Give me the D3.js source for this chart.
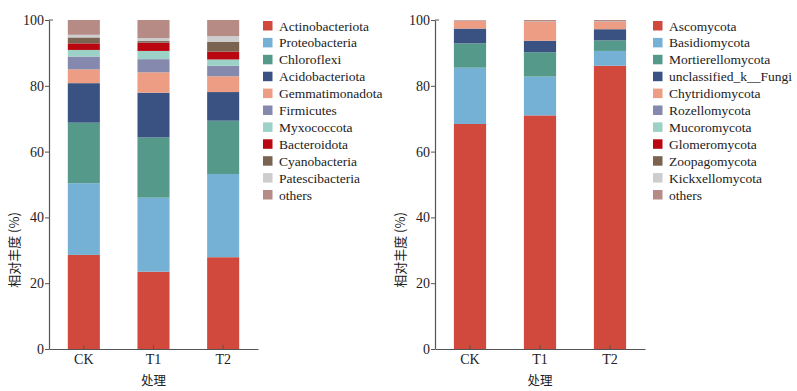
<!DOCTYPE html>
<html><head><meta charset="utf-8">
<script src="https://cdn.jsdelivr.net/npm/d3@7/dist/d3.min.js"></script>
<style>body{margin:0;background:#fff}svg{display:block}</style>
</head><body>
<svg id="c" width="797" height="391"></svg>
<script>
const groups = ["CK","T1","T2"];
const yTicks = [0,20,40,60,80,100];

const bacteriaTaxa = ["Actinobacteriota","Proteobacteria","Chloroflexi","Acidobacteriota","Gemmatimonadota","Firmicutes","Myxococcota","Bacteroidota","Cyanobacteria","Patescibacteria","others"];
const bacteriaCK = [28.6,21.8,18.4,12.0,4.2,3.9,2.0,2.0,1.8,0.8,4.5];
const bacteriaT1 = [23.5,22.5,18.3,13.6,6.2,4.0,2.5,2.5,0.5,0.9,5.5];
const bacteriaT2 = [27.9,25.3,16.2,8.7,4.8,3.2,1.9,2.4,3.0,1.7,4.9];

const fungiTaxa = ["Ascomycota","Basidiomycota","Mortierellomycota","unclassified_k__Fungi","Chytridiomycota","Rozellomycota","Mucoromycota","Glomeromycota","Zoopagomycota","Kickxellomycota","others"];
const fungiCK = [68.4,17.1,7.4,4.5,2.3,0.05,0.05,0.02,0.02,0.02,0.14];
const fungiT1 = [71.0,11.8,7.4,3.5,5.8,0.05,0.05,0.02,0.02,0.02,0.34];
const fungiT2 = [86.1,4.5,3.2,3.4,2.3,0.05,0.05,0.02,0.02,0.02,0.34];

const palette = ["#d0493c","#75b0d5","#55998a","#3a5281","#ec9d84","#8689ae","#9bd1c6","#b90610","#7b6352","#cdcdcd","#b68b85"];

const svg = d3.select("#c");
const serif = "'Liberation Serif','Times New Roman',serif";
const cjk = "'Noto Sans CJK SC',sans-serif";

function panel(opt){
  const {taxa, vals, x0, x1, legX, titleX} = opt;
  const y = d3.scaleLinear().domain([0,100]).range([349,20]);
  const x = d3.scaleBand().domain(groups).range([x0,x1]).paddingInner(0.54).paddingOuter(0.27);
  const color = d3.scaleOrdinal().domain(taxa).range(palette);
  const rows = groups.map((g,gi)=>{const o={group:g}; taxa.forEach((t,i)=>o[t]=vals[gi][i]); return o;});
  const stack = d3.stack().keys(taxa)(rows);
  const g = svg.append("g");
  g.selectAll("g.s").data(stack).join("g").attr("fill",d=>color(d.key))
    .selectAll("rect").data(d=>d).join("rect")
    .attr("x",d=>x(d.data.group)).attr("width",x.bandwidth())
    .attr("y",d=>y(d[1])).attr("height",d=>Math.max(0,y(d[0])-y(d[1])));
  // y axis
  const ya = g.append("g").attr("transform",`translate(${x0},0)`)
    .call(d3.axisLeft(y).tickValues(yTicks).tickSize(4).tickSizeOuter(0));
  ya.select(".domain").attr("stroke","#555").attr("stroke-width",1.2);
  ya.selectAll(".tick line").attr("stroke","#555");
  ya.selectAll(".tick text").attr("font-family",serif).attr("font-size",14).attr("fill","#222").attr("x",-5);
  g.append("line").attr("x1",x0).attr("x2",x0+4).attr("y1",y(100)).attr("y2",y(100)).attr("stroke","#555");
  // x axis
  const xa = g.append("g").attr("transform","translate(0,349)")
    .call(d3.axisBottom(x).tickSize(-4).tickSizeOuter(0));
  xa.select(".domain").attr("stroke","#555").attr("stroke-width",1.2);
  xa.selectAll(".tick line").attr("stroke","#555");
  xa.selectAll(".tick text").attr("font-family",serif).attr("font-size",14).attr("fill","#222").attr("y",5);
  g.append("text").attr("x",x("T1")+x.bandwidth()/2).attr("y",385).attr("text-anchor","middle")
    .attr("font-family",cjk).attr("font-size",12.5).attr("fill","#222").text("处理");
  g.append("text").attr("transform",`translate(${titleX},250) rotate(-90)`).attr("text-anchor","middle")
    .attr("font-family",cjk).attr("font-size",13).attr("fill","#222").text("相对丰度 (%)");
  // legend
  const lg = g.append("g").selectAll("g").data(taxa).join("g")
    .attr("transform",(d,i)=>`translate(${legX},${26+i*16.9})`);
  lg.append("rect").attr("x",0).attr("y",-5).attr("width",9.5).attr("height",9.5).attr("fill",d=>color(d));
  lg.append("text").attr("x",16).attr("y",4.5).attr("font-family",serif).attr("font-size",13.5).attr("fill","#222").text(d=>d);
}

panel({taxa:bacteriaTaxa, vals:[bacteriaCK,bacteriaT1,bacteriaT2], x0:49, x1:258, legX:263, titleX:19});
panel({taxa:fungiTaxa, vals:[fungiCK,fungiT1,fungiT2], x0:435, x1:645, legX:653, titleX:405});
</script>
</body></html>
